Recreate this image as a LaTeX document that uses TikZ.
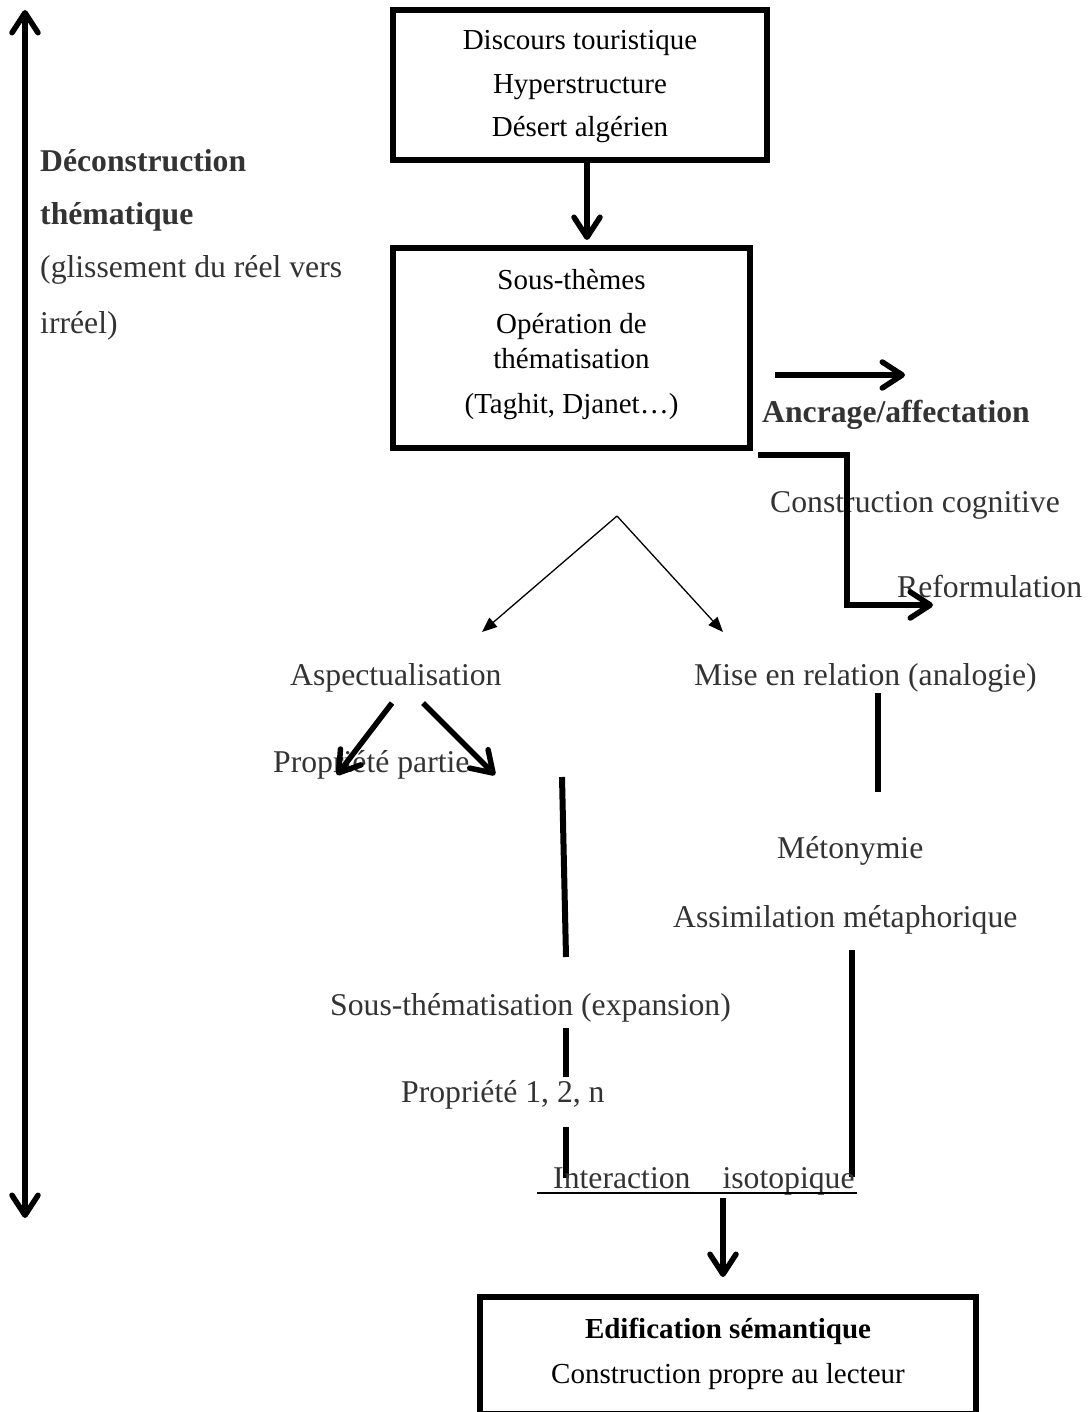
\documentclass[tikz,border=0pt]{standalone}
\usepackage{fontspec}
\setmainfont{Liberation Serif}
\usetikzlibrary{arrows.meta}

\definecolor{ink}{gray}{0.2}

\tikzset{
  frame/.style={draw=black, line width=6pt, minimum width=#1},
  boxtxt/.style={font=\fontsize{29}{35}\selectfont, anchor=base, text=black, inner sep=0pt},
  txt/.style={font=\fontsize{31.7}{38}\selectfont, anchor=base west, text=ink, inner sep=0pt},
  heavy/.style={line width=5.5pt},
  barb/.style={heavy, -{Straight Barb[length=20pt,width=26pt,line cap=round,line join=round]}},
  twobarb/.style={heavy, {Straight Barb[length=20pt,width=26pt,line cap=round,line join=round]}-{Straight Barb[length=20pt,width=26pt,line cap=round,line join=round]}},
  fine/.style={line width=1.3pt, -{Triangle[length=15pt,width=12pt]}},
  bar/.style={line width=6pt},
}

\begin{document}
\begin{tikzpicture}[x=1pt, y=-1pt]
\useasboundingbox (0,0) rectangle (1089,1412);

% side axis
\coordinate (axTop) at (25,10);
\coordinate (axBot) at (25,1218);
\draw[twobarb] (axTop) -- (axBot);

\node[txt, font=\fontsize{31.7}{38}\selectfont\bfseries] (dec1) at (40,172) {Déconstruction};
\node[txt, font=\fontsize{31.7}{38}\selectfont\bfseries] (dec2) at (40,225) {thématique};
\node[txt] (dec3) at (40,278) {(glissement du réel vers};
\node[txt] (dec4) at (40,334) {irréel)};

% top box
\node[frame=374pt, minimum height=150pt] (b1) at (580,85) {};
\node[boxtxt] (b1a) at (580,50) {Discours touristique};
\node[boxtxt] (b1b) at (580,94) {Hyperstructure};
\node[boxtxt] (b1c) at (580,137) {Désert algérien};

% second box
\node[frame=357pt, minimum height=200pt] (b2) at (571.5,348) {};
\node[boxtxt] (b2a) at (571.5,290) {Sous-thèmes};
\node[boxtxt] (b2b) at (571.5,333) {Opération de};
\node[boxtxt] (b2c) at (571.5,368) {thématisation};
\node[boxtxt] (b2d) at (571.5,413) {(Taghit, Djanet…)};

\coordinate (c587) at (587,0);
\draw[barb] (b1.south -| c587) -- ([yshift=5pt]b2.north -| c587);

% anchoring branch
\coordinate (anA) at (775,375);
\coordinate (anB) at (905,375);
\draw[barb] (anA) -- (anB);
\node[txt, font=\fontsize{31.7}{38}\selectfont\bfseries] (anc) at (762,422) {Ancrage/affectation};

\node[txt] (cog) at (770,512) {Construction cognitive};
\node[txt] (ref) at (897,597) {Reformulation};
\coordinate (elS) at (758,455);
\coordinate (elE) at (933,605);
\draw[barb, line join=miter] (elS) -- (847,455) |- (elE);

% split into two operations
\coordinate (apex) at (617,516);
\coordinate (spL) at (482,632);
\coordinate (spR) at (723,632);
\draw[fine] (apex) -- (spL);
\draw[fine] (apex) -- (spR);

\node[txt] (asp) at (290,685) {Aspectualisation};
\node[txt] (mise) at (694,685) {Mise en relation (analogie)};

\node[txt] (prop) at (273,772) {Propriété partie};
\coordinate (aspL0) at (392,703);
\coordinate (aspL1) at (337,775);
\coordinate (aspR0) at (423,703);
\coordinate (aspR1) at (495,775);
\draw[barb] (aspL0) -- (aspL1);
\draw[barb] (aspR0) -- (aspR1);

% right column
\coordinate (m0) at (878,693);
\coordinate (m1) at (878,792);
\draw[bar] (m0) -- (m1);
\node[txt] (meto) at (777,858) {Métonymie};
\node[txt] (assim) at (673,927) {Assimilation métaphorique};
\coordinate (r0) at (852,950);
\coordinate (r1) at (852,1177);
\draw[bar] (r0) -- (r1);

% left column
\coordinate (s0) at (562,777);
\coordinate (s1) at (566,957);
\draw[bar] (s0) -- (s1);
\node[txt] (sous) at (330,1015) {Sous-thématisation (expansion)};
\coordinate (d0) at (566,1028);
\coordinate (d1) at (566,1077);
\draw[bar] (d0) -- (d1);
\node[txt] (p12n) at (401,1102) {Propriété 1, 2, n};
\coordinate (e0) at (566,1127);
\coordinate (e1) at (566,1178);
\draw[bar] (e0) -- (e1);

% convergence
\node[txt] (inter) at (553,1188) {Interaction\hspace{32pt}isotopique};
\coordinate (u0) at (537,1193);
\coordinate (u1) at (857,1193);
\draw[line width=2pt] (u0) -- (u1);

% bottom box
\node[frame=496pt, minimum height=117pt] (b3) at (728,1355.5) {};
\node[boxtxt, font=\fontsize{29}{35}\selectfont\bfseries] (b3a) at (728,1338) {Edification sémantique};
\node[boxtxt] (b3b) at (728,1383) {Construction propre au lecteur};

\coordinate (x723) at (723,0);
\coordinate (dn0) at (723,1198);
\draw[barb] (dn0) -- ([yshift=17pt]b3.north -| x723);
\end{tikzpicture}
\end{document}
